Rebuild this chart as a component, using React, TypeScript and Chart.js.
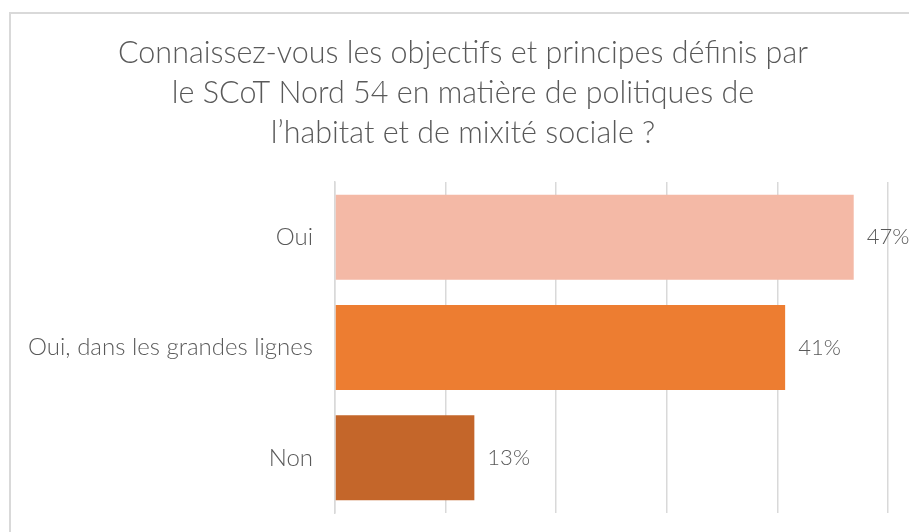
import React, { useEffect, useRef } from "react";
import { Chart, registerables } from "chart.js";

Chart.register(...registerables);

const categories = ["Oui", "Oui, dans les grandes lignes", "Non"];
const values = [46.9, 40.7, 12.6];
const barColors = ["#F4B9A6", "#ED7D31", "#C4662A"];
const titleLines = [
  "Connaissez-vous les objectifs et principes définis par",
  "le SCoT Nord 54 en matière de politiques de",
  "l\u2019habitat et de mixité sociale ?",
];

const FONT = "Lato, 'Open Sans', sans-serif";
const TEXT = "#595959";

const valueLabels = {
  id: "valueLabels",
  afterDatasetsDraw(chart: any) {
    const ctx = chart.ctx;
    const meta = chart.getDatasetMeta(0);
    ctx.save();
    ctx.font = `300 22px ${FONT}`;
    ctx.fillStyle = TEXT;
    ctx.textAlign = "left";
    ctx.textBaseline = "middle";
    meta.data.forEach((bar: any, i: number) => {
      const v = chart.data.datasets[0].data[i] as number;
      ctx.fillText(`${Math.round(v)}%`, bar.x + 13, bar.y);
    });
    ctx.restore();
  },
};

const titlePlugin = {
  id: "centeredTitle",
  afterDraw(chart: any) {
    const ctx = chart.ctx;
    ctx.save();
    ctx.font = `300 30.5px ${FONT}`;
    ctx.fillStyle = TEXT;
    ctx.textAlign = "center";
    ctx.textBaseline = "middle";
    titleLines.forEach((line, i) => {
      ctx.fillText(line, 463, 53 + i * 40);
    });
    ctx.restore();
  },
};

export default function App() {
  const ref = useRef<HTMLCanvasElement | null>(null);
  useEffect(() => {
    if (!ref.current) return;
    const chart = new Chart(ref.current, {
      type: "bar",
      data: {
        labels: categories,
        datasets: [
          {
            data: values,
            backgroundColor: barColors,
            borderWidth: 0,
            barPercentage: 0.77,
            categoryPercentage: 1,
          },
        ],
      },
      options: {
        indexAxis: "y",
        responsive: false,
        animation: false,
        layout: { padding: { left: 0, right: 21, top: 182, bottom: 19 } },
        plugins: {
          legend: { display: false },
          tooltip: { enabled: false },
          title: { display: false },
        },
        scales: {
          x: {
            min: 0,
            max: 50,
            afterFit: (scale: any) => {
              scale.height = 0;
            },
            ticks: { stepSize: 10, display: false },
            grid: { color: "#D9D9D9", lineWidth: 1.5, drawTicks: false },
            border: { display: false },
          },
          y: {
            afterFit: (scale: any) => {
              scale.width = 335;
              scale.paddingTop = 0;
              scale.paddingBottom = 0;
            },
            ticks: {
              color: TEXT,
              font: { family: FONT, size: 24, weight: "300" as any },
              padding: 22,
            },
            grid: { display: false, drawTicks: false },
            border: { display: true, color: "#D9D9D9", width: 1.5 },
          },
        },
      },
      plugins: [valueLabels, titlePlugin],
    });
    return () => chart.destroy();
  }, []);

  return (
    <div style={{ position: "absolute", left: 0, top: 0, width: 909, height: 532, overflow: "hidden", background: "#fff" }}>
      <div
        style={{
          position: "absolute",
          left: 9,
          top: 12,
          width: 960,
          height: 600,
          borderTop: "2px solid #D9D9D9",
          borderLeft: "2px solid #D9D9D9",
        }}
      />
      <canvas ref={ref} width={909} height={532} style={{ position: "absolute", left: 0, top: 0 }} />
    </div>
  );
}
